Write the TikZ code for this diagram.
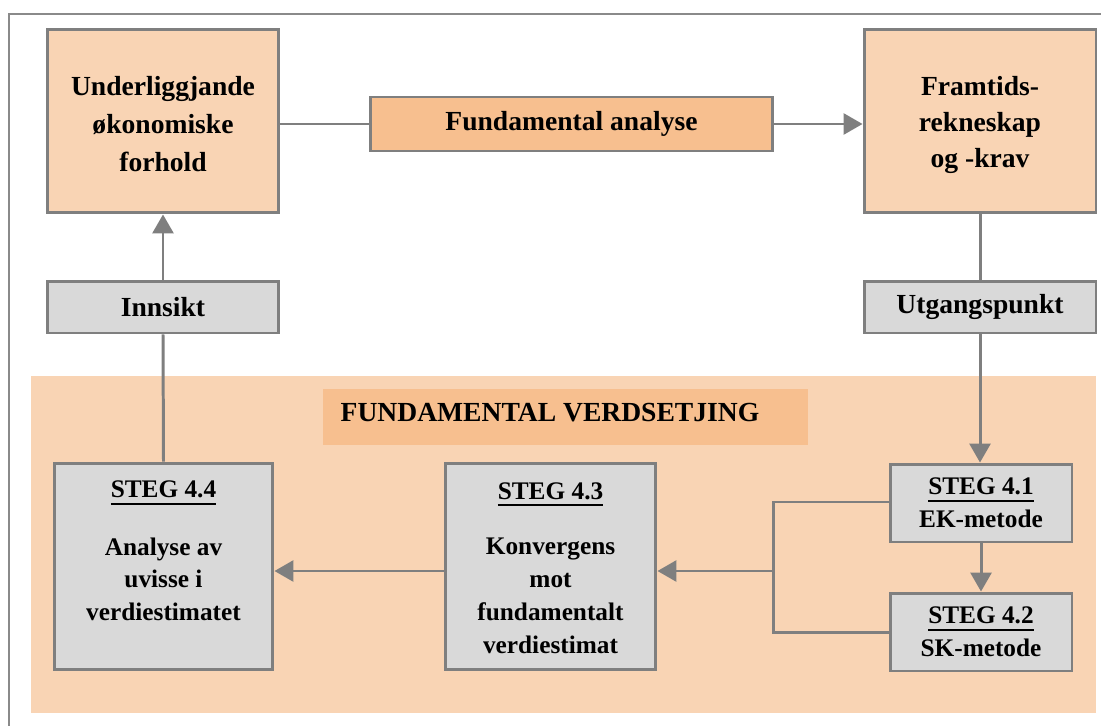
\documentclass[tikz,border=0pt]{standalone}
\usepackage{fontspec}
\setmainfont{Liberation Serif}
\usetikzlibrary{arrows.meta,calc}
\definecolor{peach}{HTML}{F9D4B4}
\definecolor{peachdark}{HTML}{F7BF8F}
\definecolor{boxgray}{HTML}{D9D9D9}
\definecolor{edge}{HTML}{7F7F7F}
\definecolor{frame}{HTML}{8A8A8A}
\newcommand\myul[1]{\vtop{\hbox{#1}\kern2.6pt\hrule height 1.1pt}}
\tikzset{
  box/.style={draw=edge, line width=1.7pt, rectangle, inner sep=0pt},
  peachbox/.style={box, fill=peach},
  fabox/.style={box, fill=peachdark},
  graybox/.style={box, fill=boxgray},
  bigtxt/.style={font=\fontsize{15.7}{21.6}\selectfont\bfseries, align=center, text=black},
  smalltxt/.style={font=\fontsize{14.4}{18.7}\selectfont\bfseries, align=center, text=black},
  conn/.style={draw=edge, line width=1.7pt},
  arr/.style={conn, -{Triangle[length=0.38cm,width=0.42cm]}},
}
\begin{document}
\begin{tikzpicture}[x=0.02cm,y=-0.02cm]
\useasboundingbox (0,0) rectangle (1101,726);
% outer frame
\draw[frame, line width=1.1pt] (9,760) -- (9,14) -- (1140,14);
% background region
\fill[peach] (31,376) rectangle (1096,713);
\node[fill=peachdark, minimum width=9.7cm, minimum height=1.12cm, inner sep=0pt] (title) at (565.5,417) {};
\node[bigtxt] (titletxt) at (550,413) {FUNDAMENTAL VERDSETJING};
% top row
\node[peachbox, minimum width=4.64cm, minimum height=3.68cm] (A) at (163,121) {};
\node[bigtxt] (Atxt) at (163,124) {Underliggjande\\økonomiske\\forhold};
\node[fabox, minimum width=8.06cm, minimum height=1.08cm] (FA) at (571.5,124) {};
\node[bigtxt] (FAtxt) at (571.5,124) {Fundamental analyse};
\node[peachbox, minimum width=4.64cm, minimum height=3.68cm] (B) at (980,121) {};
\node[bigtxt, font=\fontsize{15.7}{20.5}\selectfont\bfseries] (Btxt) at (980,125) {Framtids-\\rekneskap\\og -krav};
\node[graybox, bigtxt, minimum width=4.64cm, minimum height=1.04cm] (inn) at (163,307) {Innsikt};
\node[graybox, bigtxt, minimum width=4.64cm, minimum height=1.04cm] (utg) at (980,307) {Utgangspunkt};
% steps
\node[graybox, minimum width=4.38cm, minimum height=4.14cm] (s44) at (163.5,566.5) {};
\node[smalltxt] (s44txt) at (163.5,551) {\myul{STEG 4.4}\\[14pt]Analyse av\\uvisse i\\verdiestimatet};
\node[graybox, minimum width=4.22cm, minimum height=4.14cm] (s43) at (550.5,566.5) {};
\node[smalltxt] (s43txt) at (550.5,568) {\myul{STEG 4.3}\\[13pt]Konvergens\\mot\\fundamentalt\\verdiestimat};
\node[graybox, smalltxt, minimum width=3.64cm, minimum height=1.56cm] (s41) at (981,503) {\myul{STEG 4.1}\\EK-metode};
\node[graybox, smalltxt, minimum width=3.64cm, minimum height=1.56cm] (s42) at (981,632) {\myul{STEG 4.2}\\SK-metode};
% connectors
\coordinate (j1) at (773,502);
\coordinate (j2) at (773,632);
\coordinate (jm) at (773,571);
\draw[conn] (A.east |- FA.west) -- (FA.west);
\draw[arr] (FA.east) -- (FA.east -| B.west);
\draw[arr] (inn.north) -- (A.south);
\draw[conn] (B.south) -- (utg.north);
\draw[conn] (s44.north) -- (inn.south);
\draw[arr] (utg.south) -- (utg.south |- s41.north);
\draw[arr] (s41.south) -- (s42.north);
\draw[conn] (s41.west |- j1) -- (j1) -- (j2) -- (s42.west);
\draw[arr] (jm) -- (jm -| s43.east);
\draw[arr] (s43.west |- jm) -- (jm -| s44.east);
\end{tikzpicture}
\end{document}
